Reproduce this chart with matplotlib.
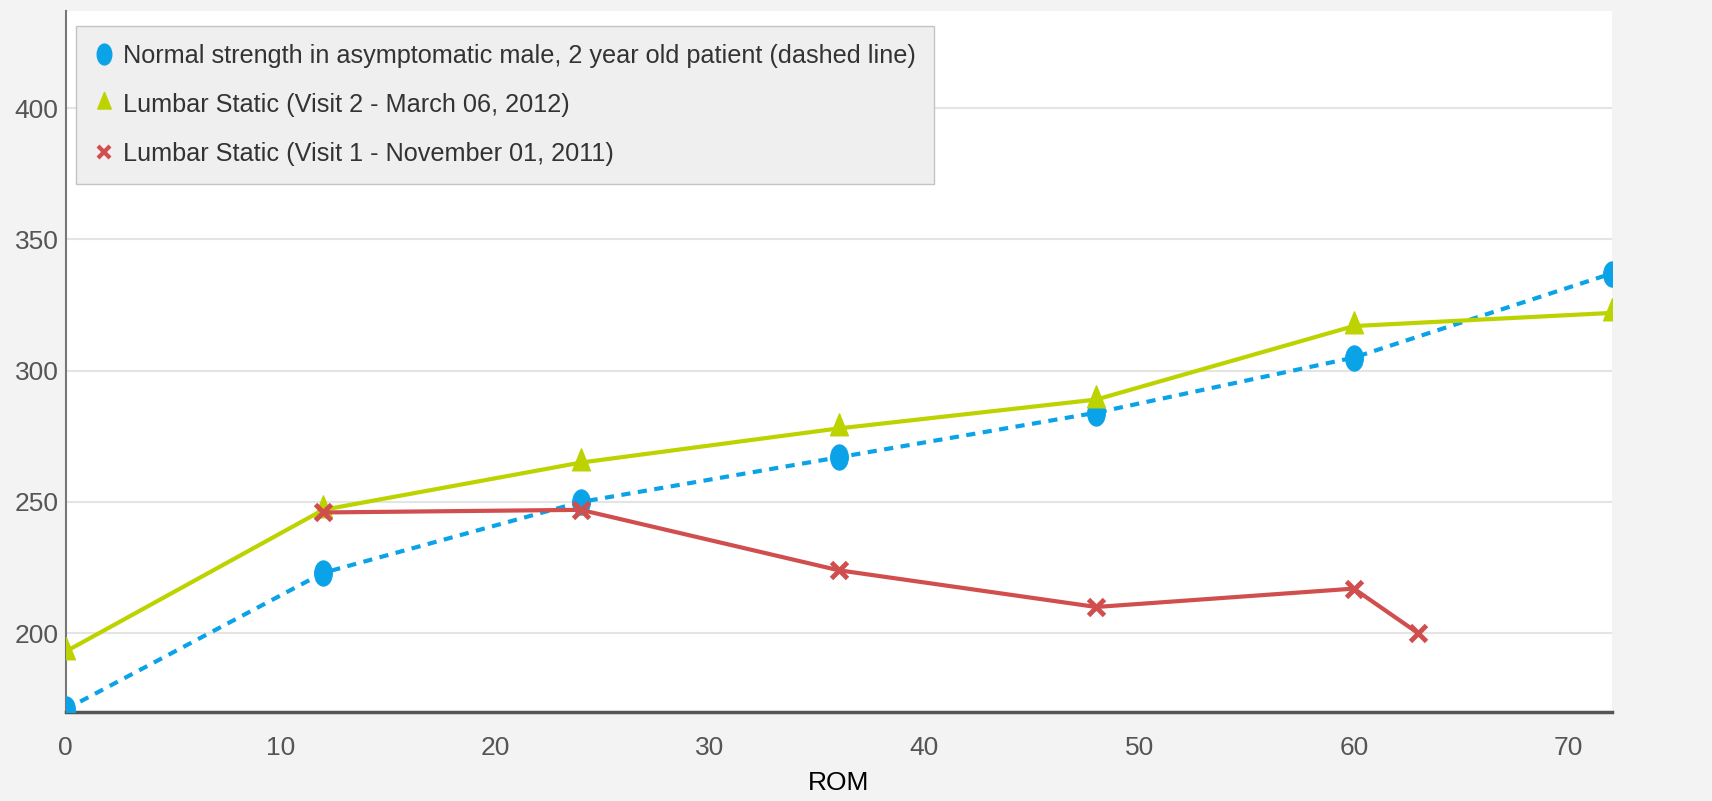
import matplotlib
matplotlib.use("Agg")
import matplotlib.pyplot as plt
from matplotlib.lines import Line2D
from matplotlib.path import Path
from matplotlib.transforms import Affine2D

plt.rcParams['font.family'] = ['Liberation Sans', 'DejaVu Sans']

ROM = [0, 12, 24, 36, 48, 60, 72]
normal = [171, 223, 250, 267, 284, 305, 337]
visit2 = [193, 247, 265, 278, 289, 317, 322]
ROM_v1 = [12, 24, 36, 48, 60, 63]
visit1 = [246, 247, 224, 210, 217, 200]

labels = ['Normal strength in asymptomatic male, 2 year old patient (dashed line)',
          'Lumbar Static (Visit 2 - March 06, 2012)',
          'Lumbar Static (Visit 1 - November 01, 2011)']
yticks = [200, 250, 300, 350, 400]
xticks = [0, 10, 20, 30, 40, 50, 60, 70]

BLUE = '#0ba3e8'
GREEN = '#bcd300'
RED = '#d04e4e'

# the original picture is a bit squeezed sideways, so narrow the markers
squeeze = Affine2D().scale(0.7, 1.0)
ellipse = squeeze.transform_path(Path.unit_circle())
tri = squeeze.transform_path(Path([(0, 1), (-0.87, -0.5), (0.87, -0.5), (0, 1)], closed=True))

fig = plt.figure(figsize=(17.12, 8.01), dpi=100, facecolor='#f3f3f3')
ax = fig.add_axes([65.5 / 1712, 1 - 712 / 801, (1611.5 - 65.5) / 1712, (712 - 11) / 801])
ax.set_facecolor('white')

ax.plot(ROM, normal, color=BLUE, linestyle=(0, (2.2, 1.8)), linewidth=3,
        marker=ellipse, markersize=18, zorder=3)
ax.plot(ROM, visit2, color=GREEN, linewidth=3, marker=tri, markersize=21, zorder=4)
ax.plot(ROM_v1, visit1, color=RED, linewidth=3, marker='x', markersize=12,
        markeredgewidth=3.5, zorder=5)

ax.set_xlim(0, 72)
ax.set_ylim(170, 437)
ax.set_xticks(xticks)
ax.set_yticks(yticks)
ax.grid(axis='y', color='#e4e4e4', linewidth=1.5)
ax.set_axisbelow(True)
ax.tick_params(length=0, labelsize=19, colors='#555555')
ax.tick_params(axis='x', pad=17)
ax.tick_params(axis='y', pad=5)
for s in ['top', 'right']:
    ax.spines[s].set_visible(False)
ax.spines['left'].set_color('#777777')
ax.spines['left'].set_linewidth(1.5)
ax.spines['bottom'].set_color('#555555')
ax.spines['bottom'].set_linewidth(2.5)
ax.set_xlabel('ROM', fontsize=19, color='#000000', labelpad=8)

handles = [Line2D([], [], linestyle='none', marker=ellipse, markersize=15, color=BLUE),
           Line2D([], [], linestyle='none', marker=tri, markersize=16, color=GREEN),
           Line2D([], [], linestyle='none', marker='x', markersize=9, markeredgewidth=3, color=RED)]
leg = ax.legend(handles, labels, loc='upper left', bbox_to_anchor=(76 / 1712, 1 - 26 / 801),
                bbox_transform=fig.transFigure, borderaxespad=0, fontsize=18.2,
                fancybox=False, framealpha=1, facecolor='#efefef', edgecolor='#c4c4c4',
                handlelength=0.8, handletextpad=0.35, labelspacing=0.98,
                borderpad=0.72)
for t in leg.get_texts():
    t.set_color('#333333')

fig.savefig('out.png', dpi=100, facecolor=fig.get_facecolor())
